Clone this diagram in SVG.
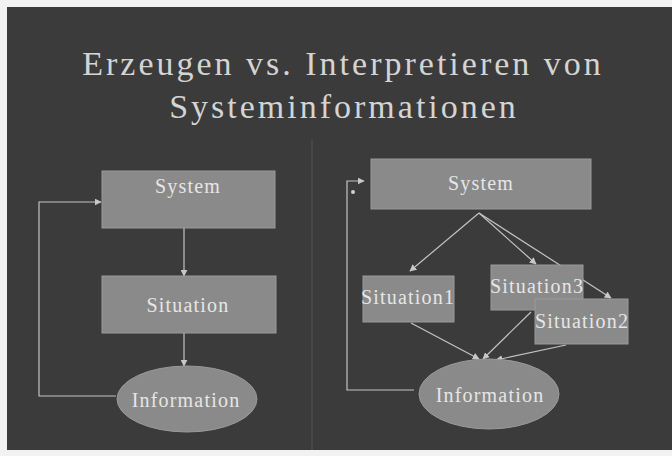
<svg xmlns="http://www.w3.org/2000/svg" width="672" height="456" viewBox="0 0 672 456">
<style>
.bg{fill:#f2f2f2}
.slide{fill:#3b3b3b}
.box{fill:#8a8a8a;stroke:#9a9a9a;stroke-width:1}
.lbl{font-family:"Liberation Serif","Times New Roman",serif;fill:#e6e6e6;text-anchor:middle;font-size:20px;letter-spacing:1.2px}
.title{font-family:"Liberation Serif","Times New Roman",serif;fill:#d4d4d4;text-anchor:middle;font-size:34px;letter-spacing:3px}
.con{fill:none;stroke:#c4c4c4;stroke-width:1.2}
</style>
<defs>
<marker id="ah" viewBox="0 0 10 10" refX="9" refY="5" markerWidth="7" markerHeight="7" orient="auto" markerUnits="userSpaceOnUse">
<path d="M0,0 L10,5 L0,10 z" fill="#c8c8c8"/>
</marker>
</defs>
<rect class="bg" x="0" y="0" width="672" height="456"/>
<rect class="slide" x="7" y="7" width="665" height="443"/>
<line x1="312" y1="140" x2="312" y2="450" stroke="#555" stroke-width="1"/>
<g id="title">
<text class="title" x="343" y="75">Erzeugen vs. Interpretieren von</text>
<text class="title" x="344" y="118">Systeminformationen</text>
</g>
<g id="connectors">
<line class="con" x1="184" y1="228" x2="184" y2="276" marker-end="url(#ah)"/>
<line class="con" x1="184" y1="333" x2="184" y2="366" marker-end="url(#ah)"/>
<polyline class="con" points="116,396 39,396 39,202 101,202" marker-end="url(#ah)"/>
<line class="con" x1="479" y1="213" x2="410" y2="271" marker-end="url(#ah)"/>
<line class="con" x1="479" y1="213" x2="536" y2="264" marker-end="url(#ah)"/>
<line class="con" x1="479" y1="213" x2="611" y2="298" marker-end="url(#ah)"/>
<line class="con" x1="411" y1="323" x2="479" y2="359" marker-end="url(#ah)"/>
<line class="con" x1="531" y1="312" x2="483" y2="359" marker-end="url(#ah)"/>
<line class="con" x1="566" y1="345" x2="496" y2="360" marker-end="url(#ah)"/>
<polyline class="con" points="414,390 347,390 347,181 364,181" marker-end="url(#ah)"/>
<circle cx="353" cy="192" r="2" fill="#d0d0d0"/>
</g>
<g id="l-system">
<rect class="box" x="102" y="171" width="173" height="57"/>
<text class="lbl" x="188" y="193">System</text>
</g>
<g id="l-situation">
<rect class="box" x="102" y="276" width="174" height="57"/>
<text class="lbl" x="188" y="312">Situation</text>
</g>
<g id="l-information">
<ellipse class="box" cx="187" cy="399" rx="70" ry="33"/>
<text class="lbl" x="186" y="407">Information</text>
</g>
<g id="r-system">
<rect class="box" x="371" y="159" width="220" height="50"/>
<text class="lbl" x="481" y="190">System</text>
</g>
<g id="r-situation1">
<rect class="box" x="363" y="276" width="91" height="46"/>
<text class="lbl" x="408" y="304">Situation1</text>
</g>
<g id="r-situation3">
<rect class="box" x="491" y="265" width="92" height="45"/>
<text class="lbl" x="537" y="293">Situation3</text>
</g>
<g id="r-situation2">
<rect class="box" x="535" y="299" width="93" height="45"/>
<text class="lbl" x="582" y="328">Situation2</text>
</g>
<g id="r-information">
<ellipse class="box" cx="489" cy="394" rx="70" ry="35"/>
<text class="lbl" x="490" y="402">Information</text>
</g>
</svg>
